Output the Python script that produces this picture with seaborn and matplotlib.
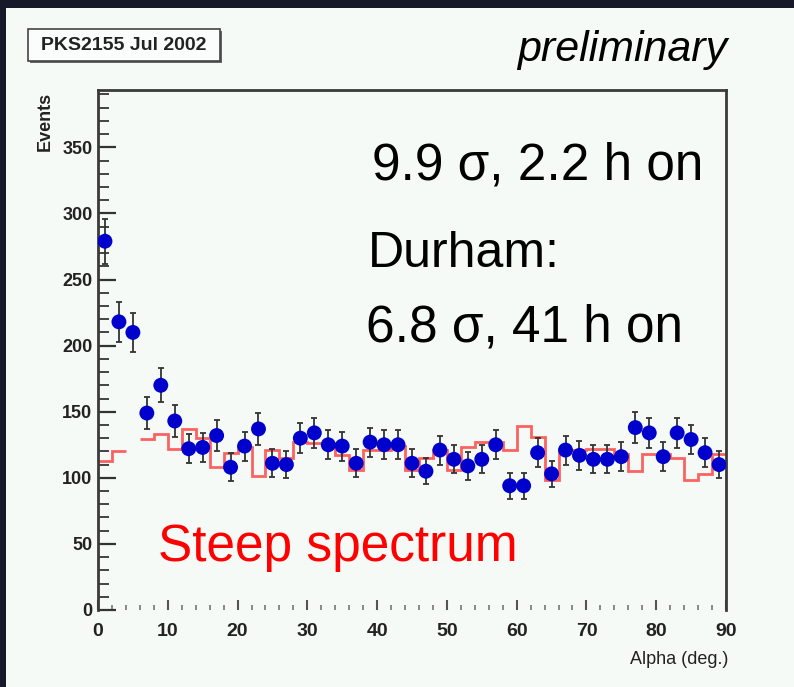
import numpy as np
import pandas as pd
import matplotlib
matplotlib.use("Agg")
import matplotlib.pyplot as plt
from matplotlib.patches import Rectangle
from matplotlib.ticker import MultipleLocator
import seaborn as sns

# ---- data ----
bin_edges = list(range(0, 92, 2))                      # Alpha (deg.) bins
alpha_centers = [e + 1 for e in bin_edges[:-1]]
on_counts = [279, 218, 210, 149, 170, 143, 122, 123, 132, 108,
             124, 137, 111, 110, 130, 134, 125, 124, 111, 127,
             125, 125, 111, 105, 121, 114, 109, 114, 125, 94,
             94, 119, 103, 121, 117, 114, 114, 116, 138, 134,
             116, 134, 129, 119, 110]
on_errors = [17, 15, 15, 12, 13, 12, 11, 11, 11.5, 10.5,
             11, 12, 10.5, 10.5, 11.5, 11.5, 11, 11, 10.5, 11,
             11, 11, 10.5, 10, 11, 10.5, 10.5, 10.5, 11, 10,
             10, 11, 10, 11, 11, 10.5, 10.5, 11, 12, 11.5,
             11, 11.5, 11, 11, 10.5]
off_counts = [113, 120, np.nan, 129, 133, 122, 137, 130, 108, 119,
              123, 101, 121, 115, 127, 126, 126, 117, 106, 121,
              121, 124, 106, 115, 121, 106, 123, 127, 127, 121,
              139, 131, 98, 121, 121, 122, 122, 118, 105, 118,
              118, 115, 98, 103, 118]
y_ticks = [0, 50, 100, 150, 200, 250, 300, 350]
x_ticks = [0, 10, 20, 30, 40, 50, 60, 70, 80, 90]

df = pd.DataFrame({"alpha": alpha_centers, "events": on_counts, "err": on_errors})

sns.set_style("ticks")
narrow = ["Liberation Sans Narrow", "Liberation Sans", "DejaVu Sans"]
plt.rcParams["font.family"] = ["Liberation Sans", "DejaVu Sans"]

W, H = 794, 687
fig = plt.figure(figsize=(W / 100, H / 100), dpi=100)
bg_dark = "#17192b"
panel = "#f5faf7"
fig.patch.set_facecolor(bg_dark)
fig.add_artist(Rectangle((6 / W, 0), 1, 1 - 8 / H, transform=fig.transFigure,
                         facecolor=panel, edgecolor="none", zorder=0))

ax = fig.add_axes([98 / W, 1 - 610 / H, (726 - 98) / W, (610 - 90) / H])
ax.set_facecolor(panel)

# background (off) histogram
ax.stairs(off_counts, bin_edges, baseline=None, color="#ff3c3c",
          linewidth=2.0, alpha=0.8, zorder=2)

# on-source points with error bars
ax.errorbar(df["alpha"], df["events"], yerr=df["err"], fmt="none",
            ecolor="#333333", elinewidth=1.3, capsize=2.5, capthick=1.3, zorder=3)
sns.scatterplot(data=df, x="alpha", y="events", ax=ax, color="#0000cc",
                s=115, edgecolor="none", zorder=4, legend=False)

ax.set_xlim(0, 90)
ax.set_ylim(0, 393.4)
ax.set_xticks(x_ticks)
ax.set_yticks(y_ticks)
ax.xaxis.set_minor_locator(MultipleLocator(2))
ax.yaxis.set_minor_locator(MultipleLocator(10))
ax.set_xlabel("")
ax.set_ylabel("")

for side in ["left", "top", "right"]:
    ax.spines[side].set_color("#3a3a3a")
    ax.spines[side].set_linewidth(2.0)
ax.spines["bottom"].set_visible(False)

ax.tick_params(axis="y", which="major", direction="in", length=13, width=1.6,
               color="#333333", labelsize=13, pad=4, labelcolor="#222222")
ax.tick_params(axis="y", which="minor", direction="in", length=8, width=1.4,
               color="#444444")
ax.tick_params(axis="x", which="major", direction="in", length=7, width=1.5,
               color="#555555", labelsize=14, pad=9, labelcolor="#222222")
ax.tick_params(axis="x", which="minor", direction="in", length=3.5, width=1.4,
               color="#888888")
for lab in ax.get_xticklabels() + ax.get_yticklabels():
    lab.set_family(narrow)
    lab.set_fontweight("bold")

# axis titles (ROOT style)
fig.text(728 / W, 1 - 659 / H, "Alpha (deg.)", ha="right", va="center",
         fontsize=13, family=narrow, color="#222222")
fig.text(45 / W, 1 - 92 / H, "Events", ha="center", va="top", rotation=90,
         fontsize=13, family=narrow, fontweight="bold", color="#222222")

# title box
fig.add_artist(Rectangle((30 / W, 1 - 63 / H), 192 / W, 32 / H,
                         transform=fig.transFigure, facecolor="#666666",
                         edgecolor="none", zorder=1))
fig.add_artist(Rectangle((28 / W, 1 - 61 / H), 192 / W, 32 / H,
                         transform=fig.transFigure, facecolor="#fbfdfc",
                         edgecolor="#444444", linewidth=1.2, zorder=2))
fig.text(124 / W, 1 - 45 / H, "PKS2155 Jul 2002", ha="center", va="center",
         fontsize=14, family=narrow, fontweight="bold", color="#222222", zorder=3)

fig.text(727 / W, 1 - 50 / H, "preliminary", ha="right", va="center",
         fontsize=31, style="italic", color="black")

fig.text(372 / W, 1 - 179 / H, "9.9 σ, 2.2 h on", ha="left", va="baseline",
         fontsize=37, color="black")
fig.text(368 / W, 1 - 267 / H, "Durham:", ha="left", va="baseline",
         fontsize=36, color="black")
fig.text(366 / W, 1 - 341 / H, "6.8 σ, 41 h on", ha="left", va="baseline",
         fontsize=37, color="black")
fig.text(158 / W, 1 - 561 / H, "Steep spectrum", ha="left", va="baseline",
         fontsize=37, color="#ff0000")

fig.savefig("out.png", dpi=100, facecolor=fig.get_facecolor())
